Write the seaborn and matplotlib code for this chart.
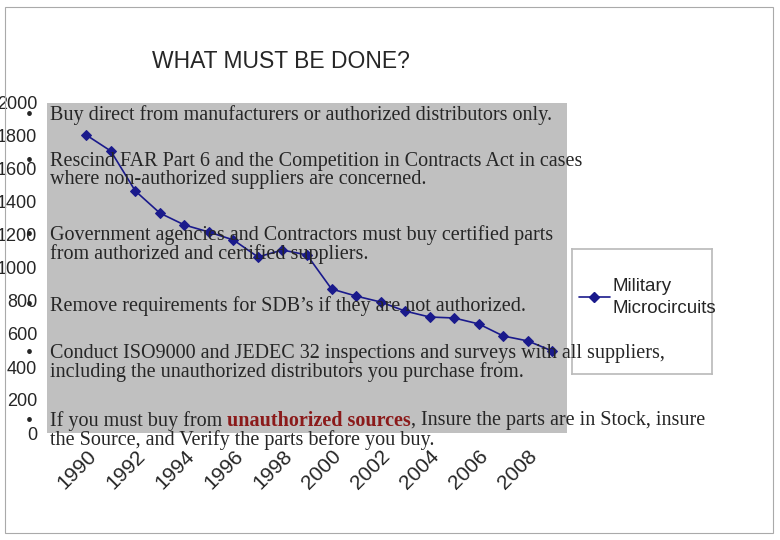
import matplotlib
matplotlib.use("Agg")
import matplotlib.pyplot as plt
import seaborn as sns
import pandas as pd
from matplotlib.patches import Rectangle

years = list(range(1990, 2010))
values = [1806, 1709, 1467, 1333, 1261, 1218, 1170, 1067, 1109, 1079,
          873, 830, 794, 739, 703, 697, 661, 588, 558, 497]
series_name = "Military\nMicrocircuits"
tick_years = list(range(1990, 2010, 2))

sns.set_theme(style="white")
plt.rcParams['font.family'] = ['Liberation Sans', 'DejaVu Sans']

fig = plt.figure(figsize=(7.8, 5.4), dpi=100)
fig.patches.append(Rectangle((5/780, 7/540), 768/780, 526/540, transform=fig.transFigure,
                             fill=False, edgecolor='#aaaaaa', lw=0.8))
ax = fig.add_axes([47/780, 1-433/540, 520/780, 330/540])
ax.set_facecolor('#c0c0c0')
df = pd.DataFrame({"year": years, "value": values})
sns.lineplot(data=df, x="year", y="value", ax=ax, color='#1a1a8c', marker='D',
             markersize=5, markeredgecolor='#1a1a8c', lw=1.2, label=series_name)
ax.set_xlim(1988.4, 2009.6)
ax.set_ylim(0, 2000)
ax.set_yticks(range(0, 2001, 200))
ax.set_xticks(tick_years)
ax.set_xticklabels([str(y) for y in tick_years], rotation=45, ha='right',
                   rotation_mode='anchor', fontsize=15)
ax.tick_params(axis='y', labelsize=13, pad=1)
ax.set_xlabel(""); ax.set_ylabel("")
for s in ax.spines.values():
    s.set_visible(False)
ax.get_legend().remove()
lax = fig.add_axes([572/780, 1-374/540, 140/780, 125/540])
lax.set_xticks([]); lax.set_yticks([])
for s in lax.spines.values():
    s.set_color('#bbbbbb')
lax.set_xlim(0, 1); lax.set_ylim(0, 1)
lax.plot([0.05, 0.27], [0.62, 0.62], color='#1a1a8c', lw=1.2)
lax.plot([0.16], [0.62], color='#1a1a8c', marker='D', markersize=5)
lax.text(0.29, 0.61, series_name, va='center', ha='left', fontsize=13.5, linespacing=1.4)

fig.text(152/780, 1-62/540, "WHAT MUST BE DONE?", fontsize=16.5, va='center')

serif = ['Liberation Serif', 'DejaVu Serif']
FS = 14.5
bullets = [
    (115, "Buy direct from manufacturers or authorized distributors only."),
    (162, "Rescind FAR Part 6 and the Competition in Contracts Act in cases\nwhere non-authorized suppliers are concerned."),
    (235, "Government agencies and Contractors must buy certified parts\nfrom authorized and certified suppliers."),
    (306, "Remove requirements for SDB’s if they are not authorized."),
    (354, "Conduct ISO9000 and JEDEC 32 inspections and surveys with all suppliers,\nincluding the unauthorized distributors you purchase from."),
]
for y, t in bullets:
    fig.text(26/780, 1-(y+1)/540, "•", family=serif, fontsize=FS, va='center')
    fig.text(50/780, 1-(y-10)/540, t, family=serif, fontsize=FS, va='top', linespacing=0.95)

y = 421
fig.text(26/780, 1-(y+1)/540, "•", family=serif, fontsize=FS, va='center')
t1 = fig.text(50/780, 1-(y-10)/540, "If you must buy from ", family=serif, fontsize=FS, va='top')
fig.canvas.draw()
r = fig.canvas.get_renderer()
bb = t1.get_window_extent(r)
t2 = fig.text(bb.x1/780, 1-(y-10)/540, "unauthorized sources", family=serif, fontsize=FS,
              va='top', color='#8b1a1a', weight='bold')
bb2 = t2.get_window_extent(r)
fig.text(bb2.x1/780, 1-(y-10)/540, ", Insure the parts are in Stock, insure", family=serif,
         fontsize=FS, va='top')
fig.text(50/780, 1-(y+9)/540, "the Source, and Verify the parts before you buy.", family=serif,
         fontsize=FS, va='top')

fig.savefig("out.png", dpi=100)
